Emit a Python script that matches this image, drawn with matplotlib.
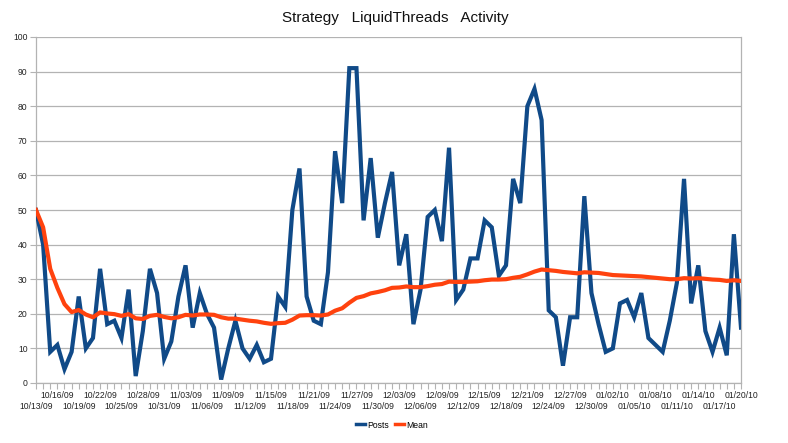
import matplotlib
matplotlib.use("Agg")
import matplotlib.pyplot as plt
import numpy as np
import pandas as pd

plt.rcParams['font.family'] = ['Liberation Sans', 'DejaVu Sans']

dates = pd.date_range("2009-10-13", "2010-01-20", freq="D")
date_labels = [d.strftime("%m/%d/%y") for d in dates]

posts = [50, 40, 9, 11, 4, 9, 25, 10, 13, 33,
         17, 18, 13, 27, 2, 15, 33, 26, 7, 12,
         25, 34, 16, 26, 20, 16, 1, 10, 18, 10,
         7, 11, 6, 7, 25, 22, 50, 62, 25, 18,
         17, 32, 67, 52, 91, 91, 47, 65, 42, 52,
         61, 34, 43, 17, 27, 48, 50, 41, 68, 24,
         27, 36, 36, 47, 45, 31, 34, 59, 52, 80,
         85, 76, 21, 19, 5, 19, 19, 54, 26, 17,
         9, 10, 23, 24, 19, 26, 13, 11, 9, 18,
         29, 59, 23, 34, 15, 9, 16, 8, 43, 16]

mean = [50.0, 45.0, 33.0, 27.5, 22.8, 20.5, 21.1, 19.8, 19.0, 20.4,
        20.1, 19.9, 19.4, 19.9, 18.7, 18.5, 19.4, 19.7, 19.1, 18.7,
        19.0, 19.7, 19.5, 19.8, 19.8, 19.7, 19.0, 18.6, 18.6, 18.3,
        18.0, 17.8, 17.4, 17.1, 17.3, 17.4, 18.3, 19.5, 19.6, 19.6,
        19.5, 19.8, 20.9, 21.6, 23.2, 24.6, 25.1, 25.9, 26.3, 26.8,
        27.5, 27.6, 27.9, 27.7, 27.7, 28.0, 28.4, 28.6, 29.3, 29.2,
        29.2, 29.3, 29.4, 29.7, 29.9, 29.9, 30.0, 30.4, 30.7, 31.4,
        32.2, 32.8, 32.6, 32.4, 32.1, 31.9, 31.7, 32.0, 31.9, 31.8,
        31.5, 31.2, 31.1, 31.0, 30.9, 30.8, 30.6, 30.4, 30.2, 30.0,
        30.0, 30.3, 30.2, 30.3, 30.1, 29.9, 29.8, 29.5, 29.7, 29.5]

title = "Strategy   LiquidThreads   Activity"
series_names = ["Posts", "Mean"]

fig = plt.figure(figsize=(7.88, 4.43), dpi=100)
ax = fig.add_axes([36/788, 1-383/443, (741-36)/788, (383-37)/443])

x = np.arange(len(dates))
ax.plot(x, posts, color="#104a88", lw=3.0, solid_joinstyle="miter", label=series_names[0], zorder=3)
ax.plot(x, mean, color="#ff420e", lw=3.0, label=series_names[1], zorder=4)

ax.set_xlim(0, len(dates) - 1)
ax.set_ylim(0, 100)
ax.set_yticks(np.arange(0, 101, 10))
ax.yaxis.grid(True, color="#b3b3b3", lw=0.9)
ax.set_axisbelow(True)

major = x[::3]
ax.set_xticks(major)
ax.set_xticklabels([date_labels[i] for i in major])
ax.set_xticks(x, minor=True)

for s in ax.spines.values():
    s.set_color("#b3b3b3")
    s.set_linewidth(0.9)
ax.spines['top'].set_visible(False)

ax.tick_params(axis='both', which='both', color="#b3b3b3", direction='out', length=4, width=0.8,
               labelsize=6.2, labelcolor="#222222")
ax.tick_params(axis='y', pad=2)
for k, t in enumerate(ax.xaxis.get_major_ticks()):
    t.set_pad(9.5 if k % 2 == 0 else 2.0)

fig.text(395/788, 1-18/443, title, ha='center', va='center', fontsize=11, color="#111111")

leg = fig.legend(loc='center', bbox_to_anchor=(392/788, 1-425/443), ncol=2, frameon=False,
                 fontsize=6.2, handlelength=1.1, handletextpad=0.3, columnspacing=0.6)
for h in leg.get_lines():
    h.set_linewidth(2.5)

fig.savefig("out.png", dpi=100)
